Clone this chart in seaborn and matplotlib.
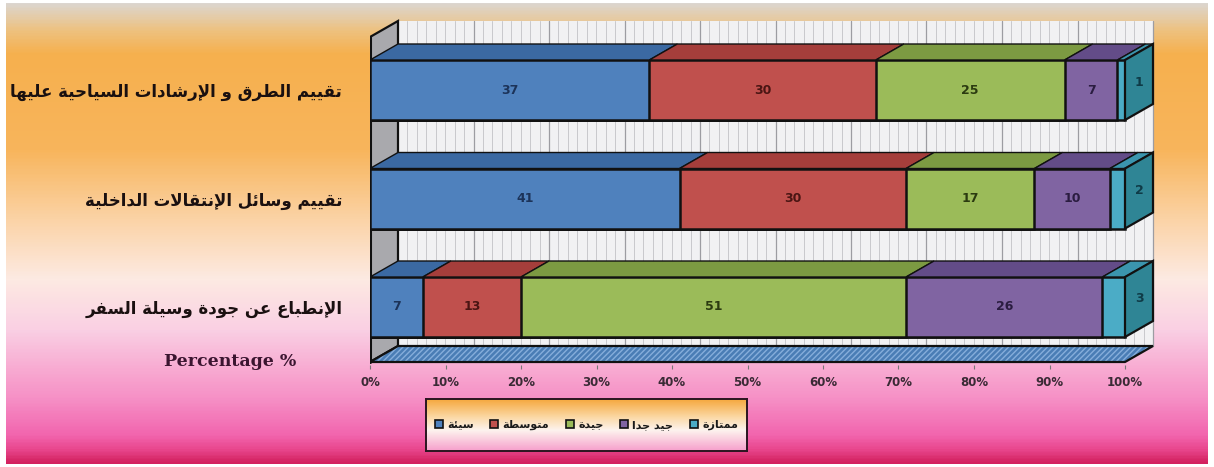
import numpy as np
import pandas as pd
import matplotlib
matplotlib.use("Agg")
import matplotlib.pyplot as plt
import seaborn as sns
from matplotlib.patches import Polygon, Patch
from matplotlib.colors import LinearSegmentedColormap

# ---------------- data ----------------
categories = ["تقييم الطرق و الإرشادات السياحية عليها",
              "تقييم وسائل الإنتقالات الداخلية",
              "الإنطباع عن جودة وسيلة السفر"]
series_names = ["سيئة", "متوسطة", "جيدة", "جيد جدا", "ممتازة"]
poor = [37, 41, 7]
average = [30, 30, 13]
good = [25, 17, 51]
very_good = [7, 10, 26]
excellent = [1, 2, 3]
xtick_values = [0, 10, 20, 30, 40, 50, 60, 70, 80, 90, 100]
xtick_labels = ["0%", "10%", "20%", "30%", "40%", "50%", "60%", "70%", "80%", "90%", "100%"]
axis_title = "Percentage %"

# ---------------- minimal Arabic shaping (contextual forms + visual order) ----------------
FORMS = {'ء': (0xFE80, 1), 'آ': (0xFE81, 2), 'أ': (0xFE83, 2), 'ؤ': (0xFE85, 2), 'إ': (0xFE87, 2),
         'ئ': (0xFE89, 4), 'ا': (0xFE8D, 2), 'ب': (0xFE8F, 4), 'ة': (0xFE93, 2), 'ت': (0xFE95, 4),
         'ث': (0xFE99, 4), 'ج': (0xFE9D, 4), 'ح': (0xFEA1, 4), 'خ': (0xFEA5, 4), 'د': (0xFEA9, 2),
         'ذ': (0xFEAB, 2), 'ر': (0xFEAD, 2), 'ز': (0xFEAF, 2), 'س': (0xFEB1, 4), 'ش': (0xFEB5, 4),
         'ص': (0xFEB9, 4), 'ض': (0xFEBD, 4), 'ط': (0xFEC1, 4), 'ظ': (0xFEC5, 4), 'ع': (0xFEC9, 4),
         'غ': (0xFECD, 4), 'ف': (0xFED1, 4), 'ق': (0xFED5, 4), 'ك': (0xFED9, 4), 'ل': (0xFEDD, 4),
         'م': (0xFEE1, 4), 'ن': (0xFEE5, 4), 'ه': (0xFEE9, 4), 'و': (0xFEED, 2), 'ى': (0xFEEF, 2),
         'ي': (0xFEF1, 4)}
LAMALEF = {'آ': 0xFEF5, 'أ': 0xFEF7, 'إ': 0xFEF9, 'ا': 0xFEFB}


def shape(text):
    out = []
    i = 0
    n = len(text)
    while i < n:
        c = text[i]
        if c not in FORMS:
            out.append(c)
            i += 1
            continue
        prev = text[i - 1] if i > 0 else ''
        joins_prev = prev in FORMS and FORMS[prev][1] == 4
        if c == 'ل' and i + 1 < n and text[i + 1] in LAMALEF:
            base = LAMALEF[text[i + 1]]
            out.append(chr(base + (1 if joins_prev else 0)))
            i += 2
            continue
        base, nf = FORMS[c]
        nxt = text[i + 1] if i + 1 < n else ''
        joins_next = nf == 4 and nxt in FORMS
        if nf == 1:
            form = 0
        elif joins_prev and joins_next:
            form = 3
        elif joins_prev:
            form = 1
        elif joins_next:
            form = 2
        else:
            form = 0
        out.append(chr(base + form))
        i += 1
    return ''.join(reversed(out))


# ---------------- style ----------------
W, H = 1214, 467
front_cols = ['#4F81BD', '#C0504D', '#9BBB59', '#8064A2', '#4BACC6']
top_cols = ['#3B69A2', '#A53E3B', '#7C9A42', '#634C88', '#3B95AE']
side_col = '#2F8595'
label_cols = ['#1C3359', '#4A1513', '#2B3A10', '#2A1C40', '#0F3B47']

sns.set_theme(style="white")
plt.rcParams['font.family'] = ['DejaVu Sans']

fig = plt.figure(figsize=(W / 100, H / 100), dpi=100)
fig.patch.set_facecolor('white')

# background gradient
bg = fig.add_axes([6 / W, 3 / H, (1208 - 6) / W, (464 - 3) / H], zorder=-10)
stops = [(0.0, '#DCD6D0'), (0.06, '#EEC17E'), (0.11, '#F6B04E'), (0.32, '#F8B55C'),
         (0.47, '#FBD3A6'), (0.60, '#FDEAE2'), (0.71, '#FAD0E4'), (0.80, '#F8A9D1'),
         (0.86, '#F690C6'), (0.94, '#F265AE'), (0.97, '#E9488F'), (1.0, '#D3215F')]
bg_cmap = LinearSegmentedColormap.from_list('bg', stops)
bg.imshow(np.linspace(0, 1, 400).reshape(-1, 1), aspect='auto', cmap=bg_cmap,
          extent=[0, 1, 1, 0])
bg.set_axis_off()

# main axes: x 0..100 -> px 370..1125 ; row centers at px 90,198.5,307
px_per_pct = 7.55
row_px = 108.5
ax_left_px, ax_right_px = 370, 370 + px_per_pct * 106
ax_top_px, ax_bot_px = 15, 365
ax = fig.add_axes([ax_left_px / W, (H - ax_bot_px) / H, (ax_right_px - ax_left_px) / W,
                   (ax_bot_px - ax_top_px) / H])
ax.set_facecolor('none')

v_top_lim = (ax_top_px - 90) / row_px
v_bot_lim = (ax_bot_px - 90) / row_px
dx = 28 / px_per_pct
dy = -16 / row_px
bar_h = 60 / row_px
wall_top = (37 - 90) / row_px
floor_v = (362 - 90) / row_px

shaped_cats = [shape(c) for c in categories]
series = [poor, average, good, very_good, excellent]
cum = np.cumsum(np.array(series, dtype=float), axis=0)

# walls
back_wall = Polygon([(dx, wall_top + dy), (100 + dx, wall_top + dy), (100 + dx, floor_v + dy),
                     (dx, floor_v + dy)], closed=True, facecolor='#F1F1F3', edgecolor='none', zorder=0)
ax.add_patch(back_wall)
for xv in np.arange(1.25, 100, 1.25):
    ax.plot([xv + dx, xv + dx], [wall_top + dy, floor_v + dy], color='#C8C8CC', lw=0.7, zorder=0.2)
for xv in xtick_values[1:]:
    ax.plot([xv + dx, xv + dx], [wall_top + dy, floor_v + dy], color='#9C9CA2', lw=0.9, zorder=0.3)
side_wall = Polygon([(0, wall_top), (dx, wall_top + dy), (dx, floor_v + dy), (0, floor_v)],
                    closed=True, facecolor='#A9A9AD', edgecolor='#111111', lw=1.6, zorder=0.5)
ax.add_patch(side_wall)
floor = Polygon([(0, floor_v), (100, floor_v), (100 + dx, floor_v + dy), (dx, floor_v + dy)],
                closed=True, facecolor='#4A7DB5', edgecolor='#86AEDB', hatch='//////', lw=0, zorder=0.6)
ax.add_patch(floor)
ax.add_patch(Polygon([(0, floor_v), (100, floor_v), (100 + dx, floor_v + dy), (dx, floor_v + dy)],
                     closed=True, facecolor='none', edgecolor='#111111', lw=1.6, zorder=0.7))
ax.plot([0, 0], [wall_top, floor_v], color='#111111', lw=2.2, zorder=0.8)

# stacked bars: cumulative totals drawn largest first
for i in reversed(range(len(series))):
    sns.barplot(x=list(cum[i]), y=shaped_cats, orient='h', color=front_cols[i], saturation=1,
                width=bar_h, edgecolor='#111111', linewidth=1.8, ax=ax, order=shaped_cats, zorder=2)

# 3D faces and labels
for r in range(len(categories)):
    v_up = r - bar_h / 2
    v_dn = r + bar_h / 2
    for i in range(len(series)):
        start = cum[i - 1][r] if i > 0 else 0.0
        end = cum[i][r]
        top = Polygon([(start, v_up), (end, v_up), (end + dx, v_up + dy), (start + dx, v_up + dy)],
                      closed=True, facecolor=top_cols[i], edgecolor='#111111', lw=1.0, zorder=3)
        ax.add_patch(top)
        val = series[i][r]
        if i < len(series) - 1:
            ax.text((start + end) / 2, r, str(val), ha='center', va='center', fontsize=9,
                    fontweight='bold', color=label_cols[i], zorder=6)
    side = Polygon([(100, v_up), (100 + dx, v_up + dy), (100 + dx, v_dn + dy), (100, v_dn)],
                   closed=True, facecolor=side_col, edgecolor='#111111', lw=1.6, zorder=3)
    ax.add_patch(side)
    ax.text(100 + dx / 2, r + dy / 2, str(series[-1][r]), ha='center', va='center', fontsize=9,
            fontweight='bold', color=label_cols[-1], zorder=6)

ax.set_xlim(0, 106)
ax.set_ylim(v_bot_lim, v_top_lim)
ax.set_xticks(xtick_values)
ax.set_xticklabels(xtick_labels, fontsize=8.5, fontweight='bold', color='#3A2A35')
ax.set_yticks(range(len(categories)))
ax.set_yticklabels(shaped_cats, fontsize=12, fontweight='bold', color='#1A1010')
ax.tick_params(axis='x', length=3, width=0.8, color='#777777', pad=5, bottom=True)
ax.tick_params(axis='y', length=0, pad=20)
ax.set_xlabel('')
ax.set_ylabel('')
for s in ax.spines.values():
    s.set_visible(False)
ax.grid(False)

fig.text(230 / W, 1 - 361 / H, axis_title, ha='center', va='center', fontsize=12.5,
         fontweight='bold', family='DejaVu Serif', color='#3B1530')

# legend with gradient box
lax = fig.add_axes([426 / W, (H - 451) / H, 321 / W, 52 / H], zorder=5)
lstops = [(0.0, '#F5A83E'), (0.35, '#FBD9A6'), (0.6, '#FDF3EE'), (1.0, '#F6A0CC')]
lax.imshow(np.linspace(0, 1, 100).reshape(-1, 1), aspect='auto',
           cmap=LinearSegmentedColormap.from_list('lg', lstops), extent=[0, 1, 1, 0])
lax.set_xticks([])
lax.set_yticks([])
for s in lax.spines.values():
    s.set_visible(True)
    s.set_color('#2A1520')
    s.set_linewidth(1.4)
handles = [Patch(facecolor=front_cols[i], edgecolor='#111111', lw=1.2, label=shape(series_names[i]))
           for i in range(len(series_names))]
leg = lax.legend(handles=handles, loc='center', ncol=5, frameon=False, handlelength=0.7,
                 handleheight=0.7, handletextpad=0.4, columnspacing=1.5,
                 prop={'weight': 'bold', 'size': 8})
for t in leg.get_texts():
    t.set_color('#1A1A1A')

fig.savefig('out.png', dpi=100)
